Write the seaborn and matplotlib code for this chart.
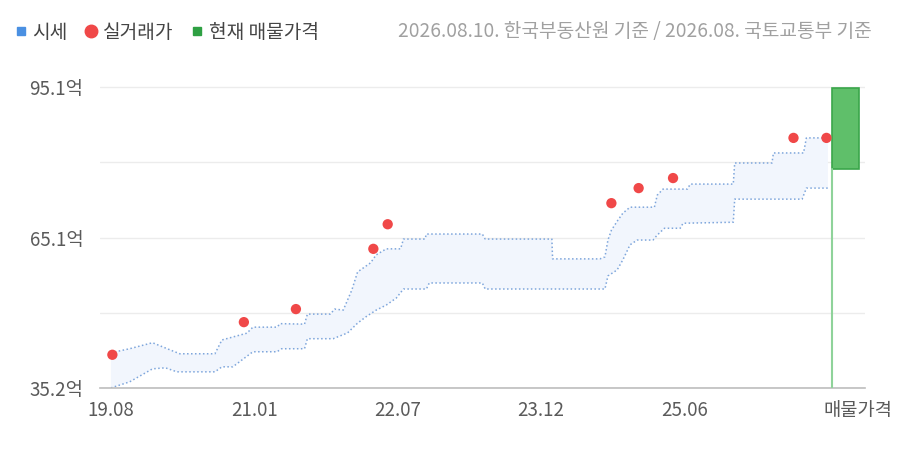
import numpy as np
import pandas as pd
import matplotlib
matplotlib.use("Agg")
import matplotlib.pyplot as plt
from matplotlib.lines import Line2D
import seaborn as sns

# x positions: 0..4 are the labelled months, 5 is the latest date (2026.08)
tick_pos = [0, 1, 2, 3, 4, 5.21]
tick_labels = ["19.08", "21.01", "22.07", "23.12", "25.06", "매물가격"]

# 시세 band, upper edge (억)
upper_x = [0, 0.13, 0.29, 0.41, 0.48, 0.725, 0.774, 0.948, 0.99, 1.158, 1.18, 1.35,
           1.37, 1.53, 1.56, 1.62, 1.65, 1.68, 1.72, 1.76, 1.81, 1.85, 1.92, 2.02,
           2.04, 2.19, 2.20, 2.59, 2.61, 3.075, 3.08, 3.41, 3.445, 3.466, 3.49, 3.535,
           3.57, 3.62, 3.79, 3.81, 3.85, 4.02, 4.04, 4.34, 4.35, 4.61, 4.62, 4.83,
           4.85, 5.0]
upper_v = [42.2, 43.0, 44.2, 42.8, 42.0, 42.0, 44.75, 46.1, 47.3, 47.3, 48.0, 47.9,
           49.9, 49.9, 50.9, 50.7, 52.7, 54.7, 58.3, 59.1, 60.1, 61.7, 62.9, 62.9,
           64.85, 64.85, 65.85, 65.85, 64.85, 64.85, 60.9, 60.9, 61.3, 64.65, 66.6, 68.6,
           70.0, 71.2, 71.2, 73.6, 74.8, 74.8, 75.8, 75.8, 80.0, 80.0, 82.0, 82.0,
           85.0, 85.0]

# 시세 band, lower edge (억)
lower_x = [0, 0.13, 0.29, 0.38, 0.46, 0.725, 0.774, 0.85, 0.99, 1.158, 1.19, 1.35,
           1.37, 1.55, 1.58, 1.65, 1.72, 1.785, 1.85, 1.92, 1.99, 2.04, 2.20, 2.22,
           2.59, 2.61, 3.445, 3.466, 3.53, 3.57, 3.62, 3.67, 3.78, 3.81, 3.86, 3.97,
           3.99, 4.34, 4.35, 4.82, 4.85, 5.0]
lower_v = [35.2, 36.4, 39.0, 39.2, 38.4, 38.4, 39.4, 39.4, 42.4, 42.4, 43.0, 43.0,
           45.0, 45.0, 45.35, 46.15, 48.1, 49.5, 50.7, 51.7, 53.1, 54.9, 54.9, 56.1,
           56.1, 54.9, 54.9, 57.5, 58.7, 60.7, 63.7, 64.65, 64.65, 65.65, 67.0, 67.0,
           68.0, 68.2, 72.8, 72.8, 75.0, 75.0]

# 실거래가
deal_x = [0.01, 0.927, 1.29, 1.83, 1.93, 3.49, 3.68, 3.92, 4.76, 4.99]
deal_v = [41.8, 48.3, 50.9, 62.9, 67.8, 72.0, 75.0, 77.0, 85.0, 85.0]

# 현재 매물가격 range
listing_x = 5.03
listing_w = 0.19
listing_low = 78.8
listing_high = 95.0

y_ticks = [35.2, 50.15, 65.1, 80.1, 95.1]
y_labels = ["35.2억", "", "65.1억", "", "95.1억"]

note = "2026.08.10. 한국부동산원 기준 / 2026.08. 국토교통부 기준"

sns.set_theme(style="white")
plt.rcParams["font.family"] = ["Noto Sans CJK KR", "DejaVu Sans"]

BAND_LINE = "#7ea6dc"
BAND_FILL = "#f2f6fd"
RED = "#f04848"
GREEN = "#5fbf6a"
GREEN_EDGE = "#3aa64a"

fig = plt.figure(figsize=(9, 4.5), dpi=100)
ax = fig.add_axes([0.111, 0.138, 0.85, 0.695])

upper = pd.DataFrame({"x": upper_x, "v": upper_v})
lower = pd.DataFrame({"x": lower_x, "v": lower_v})
deals = pd.DataFrame({"x": deal_x, "v": deal_v})

# band fill as polygon: upper forward, lower back
ax.fill(np.r_[upper["x"], lower["x"][::-1]], np.r_[upper["v"], lower["v"][::-1]],
        color=BAND_FILL, lw=0, zorder=1)
for df in (upper, lower):
    sns.lineplot(data=df, x="x", y="v", ax=ax, estimator=None, sort=False,
                 color=BAND_LINE, lw=1.1, linestyle=(0, (1, 1.6)), zorder=2)

sns.scatterplot(data=deals, x="x", y="v", ax=ax, color=RED, s=55,
                edgecolor="none", zorder=4)

# listing price bar + stem
ax.bar(listing_x, listing_high - listing_low, bottom=listing_low, width=listing_w,
       align="edge", color=GREEN, edgecolor=GREEN_EDGE, lw=1.2, zorder=3)
ax.plot([listing_x, listing_x], [35.2, listing_low], color="#8fd39a", lw=1.5, zorder=3)

ax.set_xlim(-0.077, 5.258)
ax.set_ylim(35.2, 97.5)
ax.set_yticks(y_ticks)
ax.set_yticklabels(y_labels)
ax.set_xticks(tick_pos)
ax.set_xticklabels(tick_labels)
ax.set_xlabel("")
ax.set_ylabel("")
ax.grid(axis="y", color="#ececec", lw=1)
ax.tick_params(axis="both", length=0, labelsize=13.5, colors="#5a5a5a")
ax.tick_params(axis="y", pad=12)
ax.tick_params(axis="x", pad=9)
for side in ("top", "right", "left"):
    ax.spines[side].set_visible(False)
ax.spines["bottom"].set_color("#bdbdbd")
ax.spines["bottom"].set_linewidth(1.2)

handles = [
    Line2D([], [], marker="s", ls="none", color="#4a90e2", markersize=6),
    Line2D([], [], marker="o", ls="none", color=RED, markersize=9),
    Line2D([], [], marker="s", ls="none", color="#2ea043", markersize=6),
]
fig.legend(handles, ["시세", "실거래가", "현재 매물가격"], loc="center left",
           bbox_to_anchor=(14 / 900, 1 - 32 / 450), ncol=3, frameon=False,
           borderaxespad=0, borderpad=0,
           handletextpad=0.25, columnspacing=0.9, handlelength=0.7,
           prop={"size": 13.8}, labelcolor="#444444")
fig.text(872 / 900, 1 - 32 / 450, note, ha="right", va="center",
         fontsize=13.8, color="#a0a0a0")

fig.savefig("out.png", dpi=100)
